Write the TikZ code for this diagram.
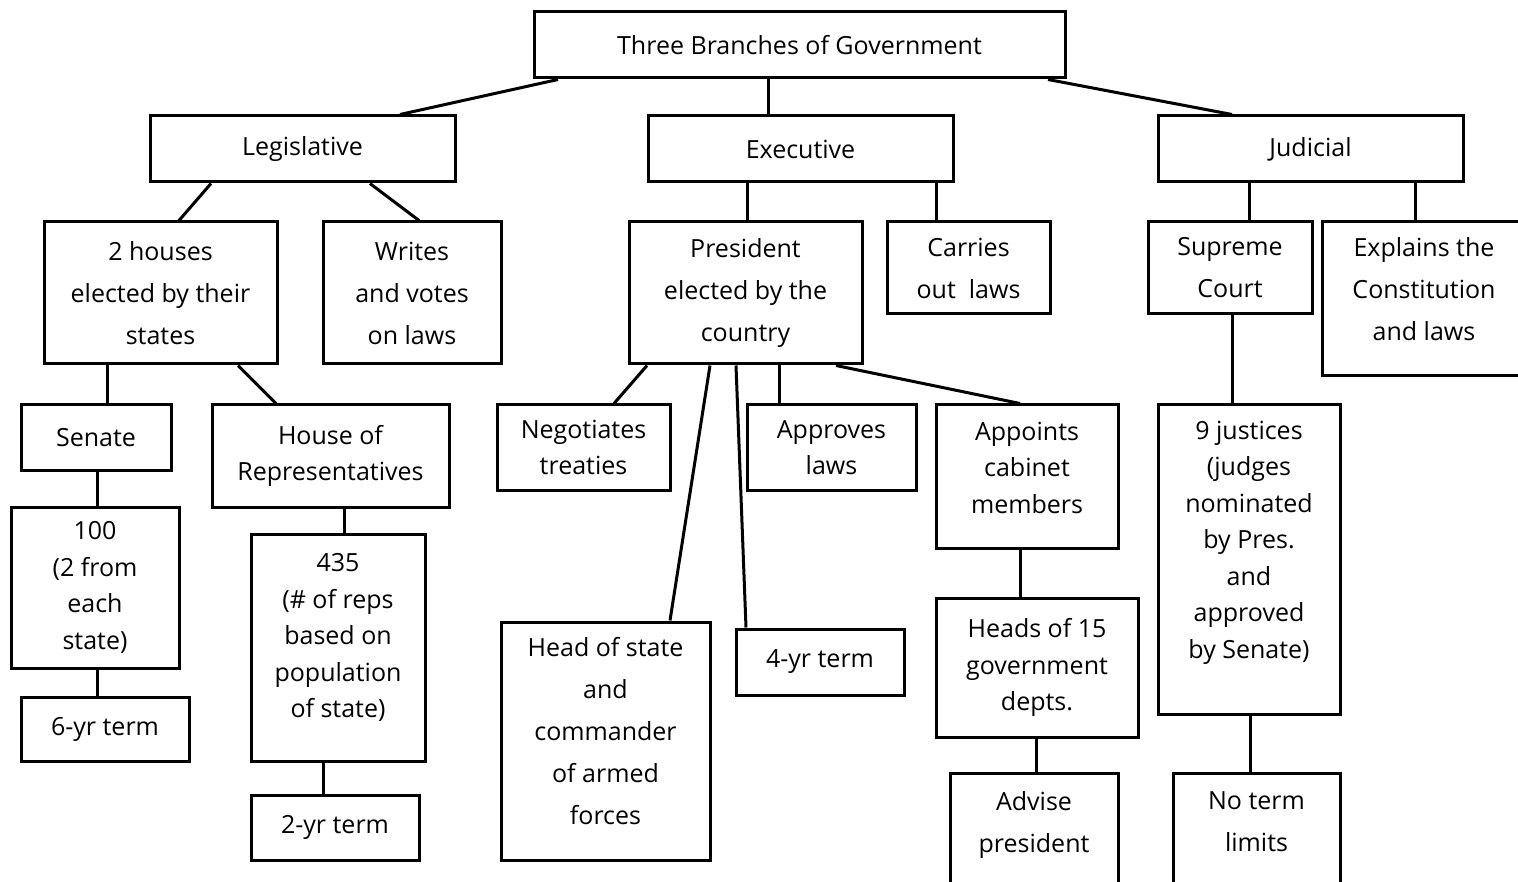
\documentclass[tikz,border=0pt]{standalone}
\usepackage{fontspec}
\setmainfont{Open Sans}

\begin{document}
\begin{tikzpicture}[x=1pt,y=-1pt,
    box/.style={draw, line width=3pt, align=center, inner sep=0pt, font=\fontsize{25}{42}\selectfont},
    tight/.style={box, font=\fontsize{25}{36.5}\selectfont},
    link/.style={line width=3pt}]

        \useasboundingbox (0,0) rectangle (1518,882);

        % Top and the three branches
        \node[box, minimum width=531pt, minimum height=66pt] (gov) at (799.5,45) {Three Branches of Government};
        \node[box, minimum width=305pt, minimum height=66pt] (leg) at (302.5,149) {Legislative};
        \node[box, minimum width=305pt, minimum height=66pt] (exe) at (800.5,149) {Executive};
        \node[box, minimum width=305pt, minimum height=66pt] (jud) at (1310.5,149) {Judicial};

        % Legislative
        \node[box, minimum width=233pt, minimum height=142pt] (houses) at (160.5,293) {2 houses\\elected by their\\states};
        \node[box, minimum width=178pt, minimum height=142pt] (writes) at (412,293) {Writes\\and votes\\on laws};
        \node[tight, minimum width=150pt, minimum height=65pt] (senate) at (96,437.5) {Senate};
        \node[tight, minimum width=237pt, minimum height=102pt] (house) at (330.5,456) {House of\\Representatives};
        \node[tight, minimum width=168pt, minimum height=161pt] (hundred) at (95,587.5) {100\\(2 from\\each\\state)};
        \node[tight, minimum width=174pt, minimum height=227pt, text depth=24pt] (reps) at (338,647.5) {435\\(\# of reps\\based on\\population\\of state)};
        \node[tight, minimum width=168pt, minimum height=64pt] (sixyr) at (105,729) {6-yr term};
        \node[tight, minimum width=168pt, minimum height=65pt] (twoyr) at (335,827.5) {2-yr term};

        % Executive
        \node[box, minimum width=233pt, minimum height=142pt] (pres) at (745.5,293) {President\\elected by the\\country};
        \node[box, minimum width=163pt, minimum height=92pt] (carries) at (968.5,268) {Carries\\out\ \ laws};
        \node[tight, minimum width=173pt, minimum height=85pt] (treaty) at (583.5,447.5) {Negotiates\\treaties};
        \node[tight, minimum width=169pt, minimum height=85pt] (approve) at (831.5,447.5) {Approves\\laws};
        \node[tight, minimum width=182pt, minimum height=143pt, text depth=18pt] (cabinet) at (1027,476.5) {Appoints\\cabinet\\members};
        \node[box, minimum width=209pt, minimum height=238pt, text depth=20pt] (head) at (605.5,741) {Head of state\\and\\commander\\of armed\\forces};
        \node[box, minimum width=168pt, minimum height=66pt] (fouryr) at (820,662) {4-yr term};
        \node[tight, minimum width=202pt, minimum height=139pt] (heads) at (1037,667.5) {Heads of 15\\government\\depts.};
        \node[box, minimum width=168pt, minimum height=117pt, text depth=20pt] (advise) at (1034,831.5) {Advise\\president};

        % Judicial
        \node[box, minimum width=164pt, minimum height=92pt] (court) at (1230,268) {Supreme\\Court};
        \node[box, minimum width=204pt, minimum height=154pt, text depth=20pt] (explain) at (1424,299) {Explains the\\Constitution\\and laws};
        \node[tight, minimum width=182pt, minimum height=309pt, text depth=40pt] (justices) at (1249,559.5) {9 justices\\(judges\\nominated\\by Pres.\\and\\approved\\by Senate)};
        \node[box, minimum width=167pt, minimum height=117pt, text depth=20pt] (noterm) at (1256.5,831.5) {No term\\limits};

        % Lines from the top
        \draw[link] ([xshift=-241.5pt]gov.south) -- ([xshift=97.5pt]leg.north);
        \draw[link] ([xshift=-31.5pt]gov.south) -- ([xshift=-32.5pt]exe.north);
        \draw[link] ([xshift=248.5pt]gov.south) -- ([xshift=-78.5pt]jud.north);

        % Lines below Legislative
        \draw[link] ([xshift=-91.5pt]leg.south) -- ([xshift=18.5pt]houses.north);
        \draw[link] ([xshift=67.5pt]leg.south) -- ([xshift=7pt]writes.north);
        \draw[link] ([xshift=-53.5pt]houses.south) -- ([xshift=11pt]senate.north);
        \draw[link] ([xshift=77.5pt]houses.south) -- ([xshift=-54.5pt]house.north);
        \draw[link] ([xshift=1pt]senate.south) -- ([xshift=2pt]hundred.north);
        \draw[link] ([xshift=2pt]hundred.south) -- ([xshift=-8pt]sixyr.north);
        \draw[link] ([xshift=13.5pt]house.south) -- ([xshift=6pt]reps.north);
        \draw[link] ([xshift=-15pt]reps.south) -- ([xshift=-12pt]twoyr.north);

        % Lines below Executive
        \draw[link] ([xshift=-53.5pt]exe.south) -- ([xshift=1.5pt]pres.north);
        \draw[link] ([xshift=135.5pt]exe.south) -- ([xshift=-32.5pt]carries.north);
        \draw[link] ([xshift=-98.5pt]pres.south) -- ([xshift=30.5pt]treaty.north);
        \draw[link] ([xshift=-35.5pt]pres.south) -- ([xshift=64.5pt]head.north);
        \draw[link] ([xshift=-9.5pt]pres.south) -- ([xshift=-74pt]fouryr.north);
        \draw[link] ([xshift=33.5pt]pres.south) -- ([xshift=-52.5pt]approve.north);
        \draw[link] ([xshift=90.5pt]pres.south) -- ([xshift=-7pt]cabinet.north);
        \draw[link] ([xshift=-7pt]cabinet.south) -- ([xshift=-17pt]heads.north);
        \draw[link] ([xshift=-1pt]heads.south) -- ([xshift=2pt]advise.north);

        % Lines below Judicial
        \draw[link] ([xshift=-61.5pt]jud.south) -- ([xshift=19pt]court.north);
        \draw[link] ([xshift=104.5pt]jud.south) -- ([xshift=-9pt]explain.north);
        \draw[link] ([xshift=2pt]court.south) -- ([xshift=-17pt]justices.north);
        \draw[link] ([xshift=1pt]justices.south) -- ([xshift=-6.5pt]noterm.north);
    \end{tikzpicture}
\end{document}
